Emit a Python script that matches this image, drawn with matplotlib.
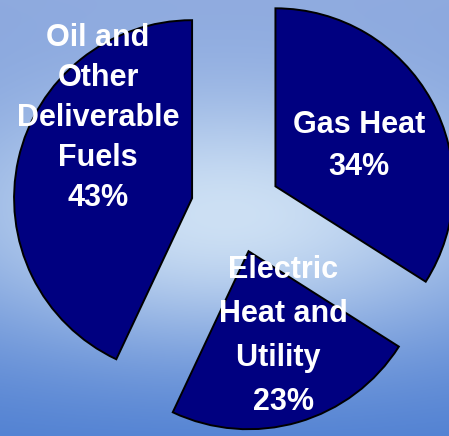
import numpy as np
import matplotlib
matplotlib.use("Agg")
import matplotlib.pyplot as plt

# data
labels = ["Gas Heat\n34%", "Electric\nHeat and\nUtility \n23%",
          "Oil and\nOther\nDeliverable\nFuels\n43%"]
shares = [34, 23, 43]
label_xy = [(359, 290), (283, 100), (98, 318)]   # label centres, pixel units
label_spacing = [1.55, 1.6, 1.43]

W, H = 449, 436
NAVY = "#000080"

plt.rcParams['font.family'] = ['Liberation Sans', 'DejaVu Sans']

fig = plt.figure(figsize=(W / 100, H / 100), dpi=100)

# background: vertical blue gradient with a light glow in the middle
yy, xx = np.mgrid[0:H, 0:W].astype(float)
top = np.array([140, 168, 222]) / 255
bot = np.array([80, 128, 210]) / 255
mid = np.array([205, 224, 244]) / 255
t = (yy / (H - 1))[..., None]
edge = top + t * (bot - top)
w = (np.exp(-((yy - 215) / 130) ** 2) * np.exp(-((xx - 225) / 300) ** 2))[..., None]
bg = edge + w * (mid - edge)

bg_ax = fig.add_axes([0, 0, 1, 1], zorder=0)
bg_ax.imshow(bg, aspect='auto', extent=(0, W, 0, H), origin='upper')
bg_ax.axis('off')

ax = fig.add_axes([0, 0, 1, 1], zorder=1)
ax.patch.set_alpha(0)

wedges, _ = ax.pie(shares, explode=[45, 45, 45], startangle=90, counterclock=False,
                   radius=178, center=(236, 228), colors=[NAVY] * 3,
                   wedgeprops=dict(edgecolor='black', linewidth=1.4))

for txt, (x, y), ls in zip(labels, label_xy, label_spacing):
    ax.text(x, y, txt, ha='center', va='center', multialignment='center',
            color='white', fontsize=22, fontweight='bold', linespacing=ls)

ax.set_xlim(0, W)
ax.set_ylim(0, H)
ax.set_aspect('auto')
ax.axis('off')

fig.savefig("out.png", dpi=100)
